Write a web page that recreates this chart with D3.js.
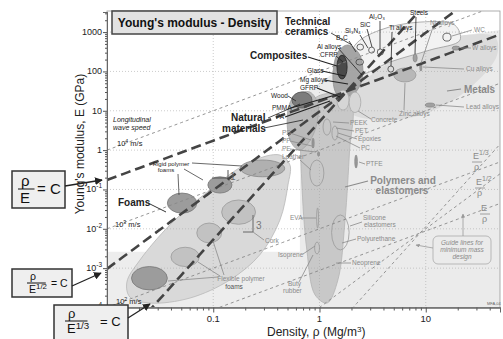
<!DOCTYPE html>
<html>
<head>
<meta charset="utf-8">
<script src="https://d3js.org/d3.v7.min.js"></script>
<style>
  body { margin: 0; background: #fff; }
  svg text { font-family: "Liberation Sans", Arial, sans-serif; }
</style>
</head>
<body>
<svg id="chart" width="503" height="339"></svg>
<script>
// ---- data ----
const densityTicks = [0.1, 1, 10];
const densityTickLabels = ["0.1", "1", "10"];
const modulusTicks = [1e-4, 1e-3, 1e-2, 1e-1, 1, 10, 100, 1000];
const modulusTickBase = ["10", "10", "10", "10", "1", "10", "100", "1000"];
const modulusTickExp = ["-4", "-3", "-2", "-1", "", "", "", ""];

const waveSpeeds = [100, 1000, 10000];          // m/s, E = rho * v^2
const guideExponents = [1, 2, 3];               // E = C * rho^n
const thickGuideC = [17.4, 9.6, 5.3];
const thinGuideC = [8.8e-4, 1.0e-4, 1.13e-5];

// envelopes, [density Mg/m3, modulus GPa]
const paleBand = [[0.01, 1e-4], [50, 1e-4], [50, 2.6e-3], [0.01, 2.6e-3]];
const paleRegion = [[0.69, 25], [1.74, 145], [8.8, 556], [50, 1122], [50, 1e-4], [0.65, 1e-4], [0.66, 2]];
const metalsEnvelope = [[1.74, 18.7], [3.33, 96], [8.8, 392], [23.4, 838], [44.9, 745], [47, 260], [26, 37.8], [10.9, 9.27], [4.6, 5.8], [2.02, 8.24]];
const ceramicsEnvelope = [[1.85, 96], [2.16, 467], [3.7, 1122], [8.8, 1795], [18.8, 1503], [21, 625], [10.9, 348], [4.6, 173], [2.39, 81]];
const polymerEnvelope = [[0.73, 10.4], [0.97, 23.6], [1.55, 26.5], [2.02, 14], [1.92, 1.0], [1.74, 0.0167], [1.49, 5e-4], [1.18, 1.3e-4], [0.91, 2.08e-4], [0.76, 0.0029], [0.68, 0.173], [0.67, 3.23]];
const naturalEnvelope = [[0.505, 10.4], [0.587, 25], [0.81, 30], [0.97, 14], [0.87, 2.42], [0.65, 1.0], [0.527, 1.8]];
const compositeEnvelope = [[1.34, 60], [1.49, 310], [1.85, 470], [2.4, 260], [2.51, 60], [2.02, 25], [1.49, 25]];
const foamEnvelope = [[0.505, 0.13], [0.424, 0.0167], [0.275, 0.0022], [0.143, 5e-4], [0.0604, 1.74e-4], [0.0254, 1.3e-4], [0.0164, 1.85e-4], [0.0154, 4.45e-4], [0.0204, 0.0016], [0.039, 0.0125], [0.093, 0.097], [0.222, 0.5], [0.424, 0.75], [0.527, 0.42]];

// material bubbles: density range, modulus range, family
const bubbleNames = ["Rigid foam A", "Rigid foam B", "Rigid foam C", "Cork", "Flexible foam A", "Flexible foam B", "Flexible foam C",
  "Wood", "CFRP", "Zinc alloys", "Lead alloys", "W alloys", "Steels", "Cu alloys", "Ti alloys", "WC", "SiC", "Al2O3", "Si3N4", "B4C",
  "Concrete", "Concrete 2", "PEEK", "PC", "PS", "PE", "Leather", "PTFE", "EVA", "Silicone", "Isoprene"];
const bubbleRho = [[0.037, 0.070], [0.089, 0.15], [0.18, 0.47], [0.12, 0.25], [0.07, 0.12], [0.04, 0.074], [0.017, 0.037],
  [0.55, 0.85], [1.46, 1.82], [5.0, 8.1], [9.9, 12.2], [17.7, 21], [7.6, 8.3], [8.8, 9.2], [4.4, 5.0], [14.5, 17.3], [2.9, 3.3], [3.5, 4.0], [2.25, 2.6], [2.2, 2.6],
  [1.46, 1.9], [1.9, 2.45], [1.08, 1.28], [1.31, 1.49], [0.85, 0.89], [0.96, 1.0], [0.81, 1.1], [2.15, 2.27], [0.94, 0.98], [1.3, 1.9], [0.9, 1.0]];
const bubbleE = [[0.025, 0.081], [0.081, 0.21], [0.21, 0.56], [0.013, 0.054], [0.0044, 0.014], [0.0011, 0.0034], [0.00028, 0.0011],
  [11.7, 30], [64, 260], [54, 122], [12.4, 15.7], [348, 440], [173, 276], [102, 163], [96, 137], [590, 940], [292, 415], [260, 370], [348, 495], [145, 206],
  [10.4, 33.6], [9, 30], [2.4, 6.2], [1.8, 4.1], [1.13, 2.0], [0.7, 0.9], [0.122, 0.56], [0.35, 0.75], [0.0105, 0.034], [0.0029, 0.0225], [0.0023, 0.0046]];
const bubbleFamily = ["foamDark", "foamDark", "foamMid", "foamLight", "foamLight", "foamLight", "foamDark",
  "wood", "composite", "metal", "metalDark", "metalDark", "metalDark", "metalDark", "outline", "outline", "outline", "outline", "outline", "outline",
  "pale", "pale", "polyLine", "polyLine", "polyDark", "polyDark", "polyLine", "polyDark", "polyLine", "polyLine", "polyLine"];

// ---- drawing ----
const svg = d3.select("#chart");
const x = d3.scaleLog().domain([0.01, 50]).range([107, 500]);
const y = d3.scaleLog().domain([1e-4, 3240]).range([307.5, 12]);
const [x0, x1] = x.range();
const [yB, yT] = [307.5, 11];

const style = {
  foamDark: ["#9c9c9c", "#777"], foamMid: ["#b0b0b0", "#888"], foamLight: ["#c2c2c2", "#999"],
  wood: ["#7c7c7c", "#555"], composite: ["#4a4a4a", "#222"], metal: ["#b8b8b8", "#999"], metalDark: ["#a0a0a0", "#888"],
  outline: ["none", "#444"], pale: ["#d6d6d6", "#aaa"], polyLine: ["none", "#999"], polyDark: ["#999", "#888"]
};

svg.append("defs").append("clipPath").attr("id", "plot")
  .append("rect").attr("x", x0).attr("y", yT).attr("width", x1 - x0).attr("height", yB - yT);
svg.select("defs").append("marker").attr("id", "arr").attr("viewBox", "0 0 10 10")
  .attr("refX", 9).attr("refY", 5).attr("markerWidth", 6).attr("markerHeight", 6).attr("orient", "auto")
  .append("path").attr("d", "M0,0L10,5L0,10z").attr("fill", "#222");
svg.select("defs").append("marker").attr("id", "arrGray").attr("viewBox", "0 0 10 10")
  .attr("refX", 9).attr("refY", 5).attr("markerWidth", 5).attr("markerHeight", 5).attr("orient", "auto")
  .append("path").attr("d", "M0,0L10,5L0,10z").attr("fill", "#999");

const plot = svg.append("g").attr("clip-path", "url(#plot)");
plot.append("rect").attr("x", x0).attr("y", yT).attr("width", x1 - x0).attr("height", yB - yT).attr("fill", "#fff");

const envLine = d3.line().x(d => x(d[0])).y(d => y(d[1])).curve(d3.curveCatmullRomClosed.alpha(0.5));
const flatLine = d3.line().x(d => x(d[0])).y(d => y(d[1])).curve(d3.curveLinearClosed);
const envelopes = [
  [paleBand, "#ededed", "none", flatLine],
  [paleRegion, "#ebebeb", "none", flatLine],
  [metalsEnvelope, "#dcdcdc", "none"],
  [ceramicsEnvelope, "#f2f2f2", "#9a9a9a"],
  [polymerEnvelope, "#c8c8c8", "#b4b4b4"],
  [naturalEnvelope, "#b9b9b9", "#a5a5a5"],
  [compositeEnvelope, "#a5a5a5", "#909090"],
  [foamEnvelope, "#d9d9d9", "#b8b8b8"]
];
envelopes.forEach(([pts, fill, stroke, ln]) => {
  plot.append("path").attr("d", (ln || envLine)(pts)).attr("fill", fill).attr("stroke", stroke).attr("stroke-width", 0.8);
});

// grid
plot.selectAll(".gx").data(densityTicks).join("line")
  .attr("x1", d => x(d)).attr("x2", d => x(d)).attr("y1", yT).attr("y2", yB)
  .attr("stroke", "#aaa").attr("stroke-width", 0.6).attr("stroke-dasharray", "1,2");
plot.selectAll(".gy").data(modulusTicks.slice(1)).join("line")
  .attr("x1", x0).attr("x2", x1).attr("y1", d => y(d)).attr("y2", d => y(d))
  .attr("stroke", "#aaa").attr("stroke-width", 0.6).attr("stroke-dasharray", "1,2");

// bubbles
plot.selectAll(".bub").data(bubbleNames).join("ellipse")
  .attr("cx", (d, i) => (x(bubbleRho[i][0]) + x(bubbleRho[i][1])) / 2)
  .attr("cy", (d, i) => (y(bubbleE[i][0]) + y(bubbleE[i][1])) / 2)
  .attr("rx", (d, i) => (x(bubbleRho[i][1]) - x(bubbleRho[i][0])) / 2)
  .attr("ry", (d, i) => (y(bubbleE[i][0]) - y(bubbleE[i][1])) / 2)
  .attr("fill", (d, i) => style[bubbleFamily[i]][0])
  .attr("stroke", (d, i) => style[bubbleFamily[i]][1])
  .attr("stroke-width", 0.8);

// wave speed lines
const rhoSpan = d3.range(-2, 1.75, 0.05).map(v => Math.pow(10, v));
const powLine = (c, n) => d3.line().x(d => x(d)).y(d => y(c * Math.pow(d, n)))(rhoSpan);
plot.selectAll(".wave").data(waveSpeeds).join("path")
  .attr("d", v => powLine(v * v * 1e-6, 1))
  .attr("fill", "none").attr("stroke", "#888").attr("stroke-width", 0.9).attr("stroke-dasharray", "3,3");
// minimum-mass guide lines
plot.selectAll(".thin").data(guideExponents).join("path")
  .attr("d", (n, i) => powLine(thinGuideC[i], n))
  .attr("fill", "none").attr("stroke", "#888").attr("stroke-width", 0.9).attr("stroke-dasharray", "3,3");
plot.selectAll(".thick").data(guideExponents).join("path")
  .attr("d", (n, i) => powLine(thickGuideC[i], n))
  .attr("fill", "none").attr("stroke", "#444").attr("stroke-width", 2.6).attr("stroke-dasharray", "10,5");

// frame
svg.append("rect").attr("x", x0).attr("y", yT).attr("width", x1 - x0).attr("height", yB - yT)
  .attr("fill", "none").attr("stroke", "#999").attr("stroke-width", 0.8);

// axes
const minorX = [];
[0.01, 0.1, 1, 10].forEach(b => d3.range(2, 10).forEach(k => { if (b * k <= 50) minorX.push(b * k); }));
const minorY = [];
[1e-4, 1e-3, 1e-2, 1e-1, 1, 10, 100, 1000].forEach(b => d3.range(2, 10).forEach(k => { if (b * k <= 3240) minorY.push(b * k); }));

const xAxis = svg.append("g").attr("transform", `translate(0,${yB})`);
xAxis.call(d3.axisBottom(x).tickValues(minorX).tickSize(3).tickFormat(""));
xAxis.append("g").call(d3.axisBottom(x).tickValues(densityTicks).tickSize(5).tickFormat(""));
xAxis.selectAll("path.domain").attr("stroke", "#666");
xAxis.selectAll("line").attr("stroke", "#555");
svg.selectAll(".xl").data(densityTicks).join("text")
  .attr("x", d => x(d)).attr("y", 322).attr("text-anchor", "middle")
  .attr("font-size", 9.5).attr("fill", "#222").text((d, i) => densityTickLabels[i]);

const yAxis = svg.append("g").attr("transform", `translate(${x0},0)`);
yAxis.call(d3.axisLeft(y).tickValues(minorY).tickSize(2).tickFormat(""));
yAxis.append("g").call(d3.axisLeft(y).tickValues(modulusTicks).tickSize(4).tickFormat(""));
yAxis.selectAll("path.domain").attr("stroke", "#666");
yAxis.selectAll("line").attr("stroke", "#555");
const yl = svg.selectAll(".yl").data(modulusTicks).join("text")
  .attr("x", 102).attr("y", d => y(d) + 3).attr("text-anchor", "end")
  .attr("font-size", 9).attr("fill", "#222");
yl.append("tspan").text((d, i) => modulusTickBase[i]);
yl.append("tspan").attr("dy", -4).attr("font-size", 6.5).text((d, i) => modulusTickExp[i]);

svg.append("text").attr("transform", "translate(84,144) rotate(-90)").attr("text-anchor", "middle")
  .attr("font-size", 12).attr("fill", "#222").text("Young's modulus, E (GPa)");
const xt = svg.append("text").attr("x", 267).attr("y", 336).attr("font-size", 12).attr("fill", "#222");
xt.append("tspan").text("Density, \u03c1  (Mg/m");
xt.append("tspan").attr("dy", -4).attr("font-size", 8).text("3");
xt.append("tspan").attr("dy", 4).text(")");

// ---- annotations ----
const T = (px, py, txt, o = {}) => svg.append("text").attr("x", px).attr("y", py)
  .attr("font-size", o.size || 6.5).attr("fill", o.color || "#222")
  .attr("font-weight", o.bold ? "bold" : null).attr("font-style", o.italic ? "italic" : null)
  .attr("text-anchor", o.anchor || "start").text(txt);
const L = (a, b, c, d, color = "#222", w = 0.8, marker) => svg.append("line")
  .attr("x1", a).attr("y1", b).attr("x2", c).attr("y2", d).attr("stroke", color).attr("stroke-width", w)
  .attr("marker-end", marker ? `url(#${marker})` : null);

// title box
svg.append("rect").attr("x", 112).attr("y", 11).attr("width", 165).attr("height", 23)
  .attr("fill", "#e2e2e2").attr("stroke", "#444").attr("stroke-width", 1.5);
T(194.5, 27, "Young's modulus - Density", { size: 12, bold: true, anchor: "middle", color: "#111" });

// black labels (upper area)
const dark = "#222", gray = "#8a8a8a";
T(285, 25, "Technical", { size: 10, bold: true }); T(285, 35, "ceramics", { size: 10, bold: true });
L(331, 33, 352, 45);
T(250, 59, "Composites", { size: 10, bold: true }); L(308, 57, 337, 66, dark, 1.2);
T(317, 49, "Al alloys"); L(338, 48, 362, 75);
T(320, 57, "CFRP"); L(336, 56, 343, 62);
T(307, 73, "Glass"); L(322, 71, 345, 76, dark, 1.2);
T(300, 82, "Mg alloys"); L(324, 80, 348, 84, dark, 1.2);
T(300, 90, "GFRP"); L(317, 88, 340, 97, dark, 1.2);
T(271, 98, "Wood"); L(288, 96, 296, 101);
T(272, 110, "PMMA"); L(291, 108, 332, 96, dark, 1.2);
T(276, 119, "PA"); L(285, 117, 330, 101, dark, 1.2);
T(231, 121, "Natural", { size: 10, bold: true }); L(268, 118, 300, 104);
T(222, 132, "materials", { size: 10, bold: true }); L(264, 128, 303, 120);
T(336, 40, "B\u2084C"); L(349, 41, 356, 52);
T(345, 33, "Si\u2083N\u2084"); L(360, 35, 368, 48);
T(360, 27, "SiC"); L(367, 29, 372, 47);
T(369, 19, "Al\u2082O\u2083"); L(380, 21, 380, 49);
T(389, 30, "Ti alloys"); L(392, 32, 391, 66);
T(410, 15, "Steels"); L(416, 17, 415, 54);
T(430, 25, "Ni alloys", { color: gray }); L(433, 27, 421, 63, gray);
T(474, 32, "WC", { color: gray }); L(472, 30, 452, 36, gray);
T(472, 50, "W alloys", { color: gray }); L(471, 48, 461, 48, gray);
T(466, 71, "Cu alloys", { color: gray }); L(464, 69, 423, 67, gray);
T(464, 93, "Metals", { size: 10, bold: true, color: gray }); L(461, 89, 447, 91, gray, 1.2);
T(466, 109, "Lead alloys", { color: gray }); L(464, 107, 436, 105, gray);
T(399, 116, "Zinc alloys", { color: gray }); L(404, 110, 405, 83, gray);
T(371, 122, "Concrete", { color: gray }); L(371, 119, 358, 111, gray);
T(350, 125, "PEEK", { color: gray }); L(349, 123, 333, 122, gray);
T(355, 133, "PET", { color: gray }); L(354, 131, 336, 128, gray);
T(358, 141, "Epoxies", { color: gray }); L(357, 139, 338, 133, gray);
T(361, 150, "PC", { color: gray }); L(360, 148, 336, 136, gray);
T(366, 166, "PTFE", { color: gray }); L(365, 164, 359, 162, gray);
T(403, 184, "Polymers and", { size: 10, bold: true, color: gray, anchor: "middle" });
T(402, 194, "elastomers", { size: 10, bold: true, color: gray, anchor: "middle" });
L(368, 181, 345, 187, gray, 1.2);
T(363, 220, "Silicone", { color: gray }); T(364, 227, "elastomers", { color: gray }); L(362, 222, 350, 226, gray);
T(357, 241, "Polyurethane", { color: gray }); L(356, 239, 342, 243, gray);
T(352, 265, "Neoprene", { color: gray }); L(351, 263, 336, 263, gray);
T(278, 257, "Isoprene", { color: gray }); L(303, 254, 315, 246, gray);
T(288, 286, "Buty", { color: gray }); T(283, 293, "rubber", { color: gray }); L(299, 282, 313, 255, gray);
T(290, 220, "EVA", { color: gray }); L(301, 218, 316, 218, gray);
T(282, 135, "PS", { color: gray }); L(290, 133, 311, 140, gray);
T(282, 143, "PP", { color: gray }); L(290, 141, 312, 146, gray);
T(282, 151, "PE", { color: gray }); L(290, 149, 316, 152, gray);
T(282, 159, "Leather", { color: gray }); L(300, 160, 311, 170, gray);
T(265, 243, "Cork", { color: gray }); L(264, 240, 253, 232, gray);
T(241, 281, "Flexible polymer", { color: gray, anchor: "middle" });
T(234, 289, "foams", { color: "#555", anchor: "middle" });
L(218, 277, 168, 281, gray); L(220, 276, 198, 262, gray); L(224, 275, 213, 241, gray);
T(171, 166, "Rigid polymer", { color: dark, anchor: "middle", size: 6 });
T(166, 172, "foams", { color: dark, anchor: "middle", size: 6 });
L(178, 174, 179, 195, "#444"); L(184, 169, 203, 180, "#444"); L(192, 163, 242, 166, "#444");
T(118, 206, "Foams", { size: 10, bold: true }); L(148, 203, 166, 212, "#333", 1);

// slope markers
L(212, 178, 228, 178, "#555", 1); L(228, 178, 228, 170, "#555", 1); T(230, 180, "1", { size: 10, color: "#666" });
L(253, 215, 253, 232, "#666", 1); L(243, 232, 253, 232, "#666", 1); T(256, 229, "3", { size: 10, color: "#777" });

// wave speed labels
T(113, 122, "Longitudinal", { size: 7, italic: true }); T(113, 130, "wave speed", { size: 7, italic: true });
const sup = (px, py, base, exp, rest, size = 7.5) => {
  const t = svg.append("text").attr("x", px).attr("y", py).attr("font-size", size).attr("fill", "#222");
  t.append("tspan").text(base); t.append("tspan").attr("dy", -3).attr("font-size", size * 0.7).text(exp);
  t.append("tspan").attr("dy", 3).text(rest);
};
sup(117, 146, "10", "4", " m/s");
sup(115, 227, "10", "3", " m/s");
sup(116, 304, "10", "2", " m/s");

// guide line labels (bottom right)
const frac = (px, py, exp) => {
  const t = svg.append("text").attr("x", px).attr("y", py).attr("font-size", 9).attr("fill", gray);
  t.append("tspan").text("E");
  if (exp) t.append("tspan").attr("dy", -4).attr("font-size", 7).text(exp);
  L(px - 1, py + 3, px + 9, py + 3, gray, 0.8);
  svg.append("text").attr("x", px + 1).attr("y", py + 11).attr("font-size", 9).attr("fill", gray).text("\u03c1");
};
frac(473, 159, "1/3");
frac(476, 185, "1/2");
frac(481, 211, "");
svg.append("rect").attr("x", 433).attr("y", 236).attr("width", 58).attr("height", 28).attr("rx", 5)
  .attr("fill", "none").attr("stroke", "#aaa").attr("stroke-width", 0.8);
T(462, 245, "Guide lines for", { italic: true, color: gray, anchor: "middle" });
T(462, 252, "minimum mass", { italic: true, color: gray, anchor: "middle" });
T(462, 259, "design", { italic: true, color: gray, anchor: "middle" });
L(463, 236, 463, 214, "#999", 0.8, "arrGray");
L(433, 248, 416, 245, "#999", 0.8, "arrGray");
T(487, 305, "MFA,04", { size: 4, color: "#666" });

// left equation boxes
const eqBox = (bx, by, bw, bh, rhoX, lineY, exp, eqX, fs) => {
  svg.append("rect").attr("x", bx).attr("y", by).attr("width", bw).attr("height", bh)
    .attr("fill", "#efefef").attr("stroke", "#333").attr("stroke-width", 1.5);
  svg.append("text").attr("x", rhoX).attr("y", lineY - 3).attr("font-size", fs).attr("fill", "#111").text("\u03c1");
  L(rhoX - 3, lineY, rhoX + (exp ? fs * 1.5 : fs * 0.9), lineY, "#111", 1);
  const e = svg.append("text").attr("x", rhoX - 1).attr("y", lineY + fs * 0.95).attr("font-size", fs).attr("fill", "#111");
  e.append("tspan").text("E");
  if (exp) e.append("tspan").attr("dy", -fs * 0.35).attr("font-size", fs * 0.75).text(exp);
  svg.append("text").attr("x", eqX).attr("y", lineY + fs * 0.35).attr("font-size", fs).attr("fill", "#111").text("= C");
};
eqBox(12, 171, 53, 37, 21, 189, "", 37, 15);
eqBox(12, 269, 60, 28, 30, 283, "1/2", 51, 10.5);
eqBox(54, 305, 74, 40, 68, 321, "1/3", 100, 13);
L(65, 186, 102, 180, "#222", 1.3, "arr");
L(72, 286, 101, 273, "#222", 1.3, "arr");
L(128, 318, 150, 304, "#222", 1.3, "arr");
</script>
</body>
</html>
